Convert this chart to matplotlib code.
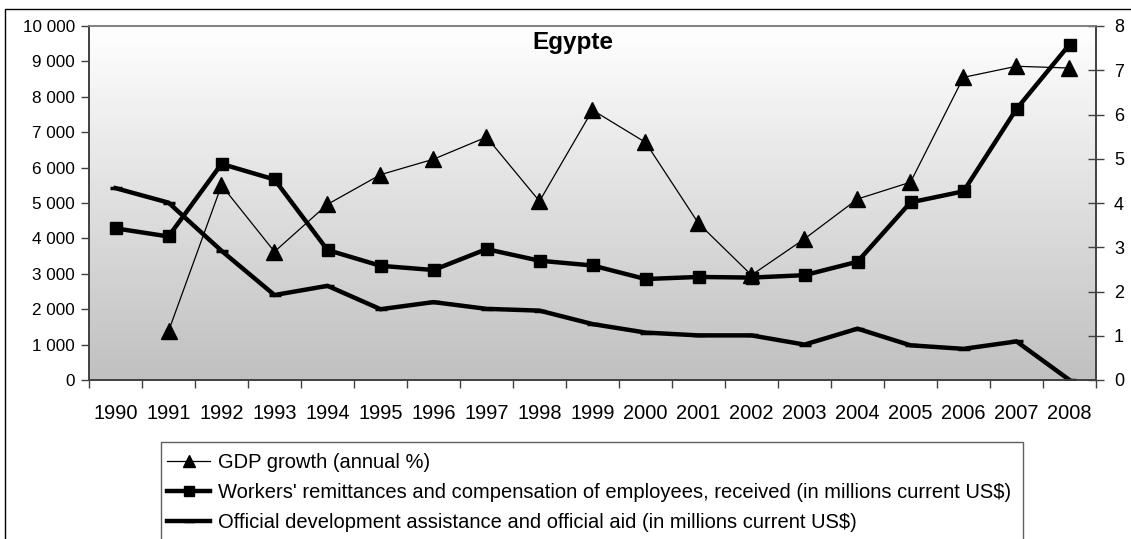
# -*- coding: utf-8 -*-

import numpy as np
import matplotlib
matplotlib.use('Agg')
import matplotlib.pyplot as plt
from matplotlib.colors import LinearSegmentedColormap
from matplotlib.patches import Rectangle
from matplotlib.ticker import FuncFormatter, FixedLocator


years = [str(y) for y in range(1990, 2009)]

# GDP growth (annual %), right axis -- no value for 1990
gdp_growth = [np.nan, 1.1, 4.4, 2.9, 3.97, 4.64, 4.99, 5.49, 4.04, 6.1,
			  5.37, 3.54, 2.37, 3.19, 4.09, 4.47, 6.84, 7.09, 7.05]

# remittances, millions current US$, left axis
remittances = [4284, 4054, 6104, 5664, 3672, 3226, 3107, 3697, 3370, 3235,
			   2852, 2911, 2893, 2961, 3341, 5017, 5330, 7656, 9476]

# official development assistance, millions current US$, left axis
oda = [5420, 5010, 3650, 2400, 2660, 2000, 2200, 2010, 1960, 1580,
	   1340, 1260, 1260, 1000, 1450, 980, 880, 1090, 0]

labels = ['GDP growth (annual %)',
		  "Workers' remittances and compensation of employees, received (in millions current US$)",
		  'Official development assistance and official aid (in millions current US$)']

plt.rcParams['font.family'] = ['Liberation Sans', 'DejaVu Sans']

W, H = 1131, 539
fig = plt.figure(figsize=(W / 100, H / 100), dpi=100)
fig.patch.set_facecolor('white')

# outer chart border (right/bottom edges fall outside the picture)
fig.patches.append(Rectangle((5 / W, -0.2), 1.2, 1 - 9 / H + 0.2,
							 transform=fig.transFigure, fill=False,
							 edgecolor='black', linewidth=1.0, clip_on=False))
# legend box, bottom edge also outside the picture
fig.patches.append(Rectangle((161 / W, -0.1), (1023 - 161) / W, 1 - 442 / H + 0.1,
							 transform=fig.transFigure, facecolor='white',
							 edgecolor='#606060', linewidth=1.0, clip_on=False))

ax = fig.add_axes([89 / W, 1 - 380 / H, (1096 - 89) / W, (380 - 26) / H])
ax2 = ax.twinx()

x = np.arange(len(years))

# grey gradient plot area
grad = LinearSegmentedColormap.from_list('grad', ['#c0c0c0', '#ffffff'])
ax.imshow(np.linspace(0, 1, 256).reshape(-1, 1), cmap=grad, origin='lower',
		  extent=[-0.5, len(years) - 0.5, 0, 10000], aspect='auto', zorder=0)

l_oda, = ax.plot(x, oda, color='black', lw=3.2, marker='_', ms=8, mew=2.5,
				 solid_joinstyle='miter', zorder=3)
l_rem, = ax.plot(x, remittances, color='black', lw=3.2, marker='s', ms=8.5,
				 solid_joinstyle='miter', zorder=4)
l_gdp, = ax2.plot(x, gdp_growth, color='black', lw=0.9, marker='^', ms=11,
				  zorder=5)

ax.set_xlim(-0.5, len(years) - 0.5)
ax.set_ylim(0, 10000)
ax2.set_ylim(0, 8)

ax.set_yticks(np.arange(0, 10001, 1000))
ax.yaxis.set_major_formatter(FuncFormatter(lambda v, p: f'{int(v):,}'.replace(',', ' ')))
ax2.set_yticks(np.arange(0, 9, 1))

ax.xaxis.set_major_locator(FixedLocator(np.arange(-0.5, len(years), 1)))
ax.xaxis.set_major_formatter(FuncFormatter(lambda v, p: ''))
ax.xaxis.set_minor_locator(FixedLocator(x))
ax.set_xticklabels(years, minor=True)

ax.tick_params(axis='x', which='major', direction='out', length=6, width=1, color='#404040')
ax.tick_params(axis='x', which='minor', length=0, labelsize=14.4, pad=17)
ax.tick_params(axis='y', direction='out', length=6, width=1, color='#404040',
			   labelsize=12.3, pad=4)
ax2.tick_params(axis='y', direction='inout', length=12, width=1, color='#404040',
				labelsize=13, pad=7)

for a in (ax, ax2):
	for s in a.spines.values():
		s.set_color('#404040')
		s.set_linewidth(1.2)
	a.spines['top'].set_color('#808080')
	a.set_facecolor('none')

fig.text(573 / W, 1 - 43 / H, 'Egypte', ha='center', va='center',
		 fontsize=17.5, fontweight='bold')

leg = fig.legend([l_gdp, l_rem, l_oda], labels, loc='upper left',
				 bbox_to_anchor=(167 / W, 1 - 453 / H), borderaxespad=0,
				 fontsize=14.5, frameon=False, borderpad=0,
				 handlelength=2.15, handletextpad=0.4, labelspacing=0.55)
for h in leg.legend_handles:
	h.set_markersize(h.get_markersize() * 0.85)

fig.savefig('out.png', dpi=100)
